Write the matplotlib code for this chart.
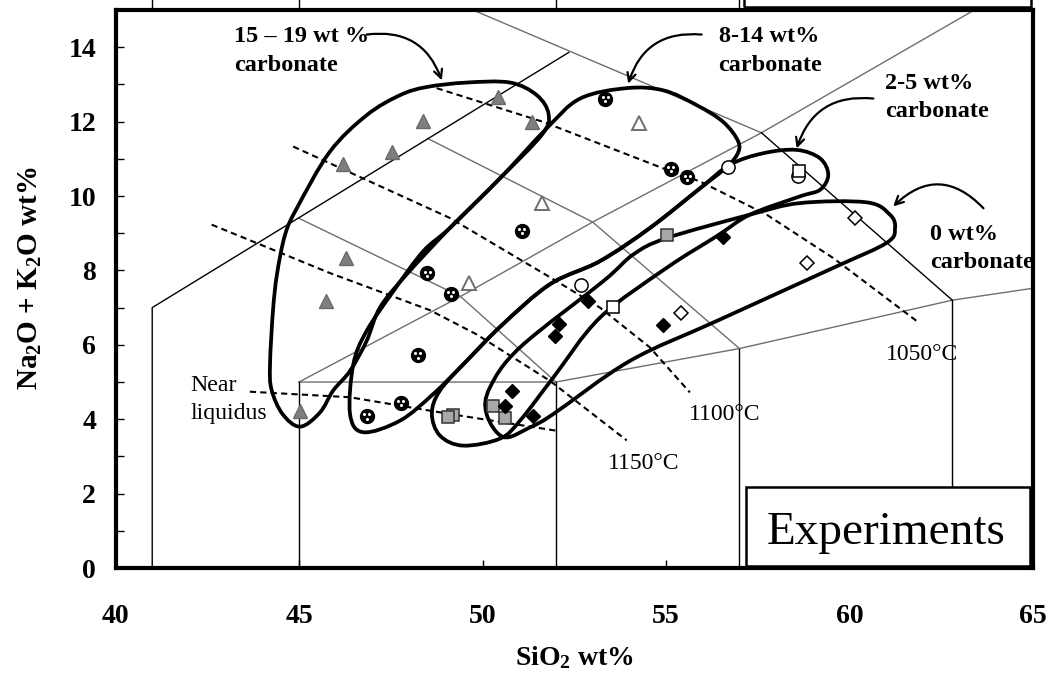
import numpy as np
import matplotlib
matplotlib.use('Agg')
import matplotlib.pyplot as plt
import matplotlib.transforms as mtransforms
from matplotlib.path import Path
from matplotlib.patches import PathPatch, Rectangle
from matplotlib.ticker import MultipleLocator

plt.rcParams['font.family'] = ['Liberation Serif', 'DejaVu Serif']
plt.rcParams['mathtext.fontset'] = 'custom'
plt.rcParams['mathtext.rm'] = 'Liberation Serif:bold'
plt.rcParams['mathtext.it'] = 'Liberation Serif:italic:bold'
plt.rcParams['mathtext.bf'] = 'Liberation Serif:bold'
plt.rcParams['mathtext.default'] = 'rm'

# experiment glasses, SiO2 vs Na2O+K2O (wt%)
tri_gray_x = [50.43, 51.34, 48.37, 47.54, 46.19, 46.27, 45.74, 45.03]
tri_gray_y = [12.66, 12.00, 12.01, 11.19, 10.86, 8.34, 7.19, 4.23]
tri_open_x = [54.27, 51.61, 49.64]
tri_open_y = [11.95, 9.81, 7.67]
dot_circ_x = [53.34, 55.13, 55.58, 51.07, 48.50, 49.14, 48.23, 47.77, 46.84]
dot_circ_y = [12.62, 10.73, 10.50, 9.07, 7.92, 7.37, 5.73, 4.44, 4.08]
open_circ_x = [56.70, 58.60, 52.68]
open_circ_y = [10.79, 10.55, 7.62]
open_sq_x = [58.62, 53.55]
open_sq_y = [10.68, 7.02]
gray_sq_x = [55.02, 49.20, 49.07, 50.29, 50.61]
gray_sq_y = [8.96, 4.10, 4.05, 4.36, 4.02]
black_dia_x = [56.56, 52.88, 52.09, 51.98, 54.93, 50.80, 50.61, 51.38]
black_dia_y = [8.89, 7.19, 6.57, 6.24, 6.52, 4.77, 4.36, 4.08]
open_dia_x = [60.15, 58.83, 55.40]
open_dia_y = [9.41, 8.20, 6.86]

# outlines of the carbonate groups
loop_15_19_x = [45.03, 44.55, 44.25, 44.21, 44.29, 44.40, 44.62, 44.94, 45.84, 46.84, 47.75, 48.48,
                49.57, 50.75, 51.48, 51.80, 51.62, 50.48, 49.11, 47.93, 47.21, 46.84, 46.39, 45.93, 45.57]
loop_15_19_y = [3.80, 4.14, 4.80, 5.48, 6.91, 7.90, 8.96, 9.67, 11.19, 12.17, 12.71, 12.93,
                13.05, 13.05, 12.71, 12.20, 11.65, 10.48, 9.14, 7.89, 7.01, 6.10, 5.30, 4.77, 4.18]
loop_8_14_x = [46.75, 46.39, 46.48, 46.84, 47.57, 48.38, 49.11, 50.48, 51.75, 52.66, 53.93, 54.93, 55.84,
               56.56, 56.97, 56.93, 56.56, 55.93, 54.56, 53.20, 51.84, 50.55, 49.57, 48.66, 47.75]
loop_8_14_y = [3.65, 4.14, 5.48, 6.37, 7.44, 8.51, 9.14, 10.48, 11.82, 12.62, 12.90, 12.84, 12.44,
               11.99, 11.46, 11.10, 10.70, 10.21, 9.14, 8.25, 7.63, 6.55, 5.57, 4.68, 3.96]
loop_2_5_x = [49.47, 48.84, 48.62, 48.84, 49.57, 50.55, 51.84, 53.20, 54.56, 55.93, 56.74, 57.65, 58.56,
              59.20, 59.42, 59.20, 58.65, 57.29, 56.38, 55.02, 53.20, 51.92, 51.02, 50.48]
loop_2_5_y = [3.29, 3.56, 4.15, 4.77, 5.57, 6.55, 7.63, 8.25, 9.14, 10.21, 10.84, 11.15, 11.24,
              11.01, 10.57, 10.17, 9.99, 9.50, 8.92, 8.07, 6.73, 5.11, 3.96, 3.48]
loop_0_x = [50.57, 50.11, 50.20, 51.02, 53.29, 54.11, 55.02, 57.29, 58.65, 60.47, 61.10, 61.24,
            61.01, 59.56, 56.38, 54.02, 51.93, 51.29]
loop_0_y = [3.52, 4.14, 4.85, 5.93, 7.71, 8.43, 8.87, 9.50, 9.81, 9.83, 9.50, 9.14,
            8.74, 8.07, 6.64, 5.57, 4.14, 3.78]

# isotherms
liq_x = [43.66, 46.39, 49.11, 52.02]
liq_y = [4.74, 4.59, 4.14, 3.69]
t1150_x = [42.62, 45.84, 48.57, 49.84, 51.84, 53.93]
t1150_y = [9.23, 7.93, 6.93, 6.28, 5.03, 3.43]
t1100_x = [44.84, 49.11, 52.02, 53.20, 54.56, 55.65]
t1100_y = [11.33, 9.41, 7.71, 7.00, 5.93, 4.72]
t1050_x = [48.75, 51.66, 54.93, 55.93, 57.74, 59.56, 61.83]
t1050_y = [12.90, 11.99, 10.74, 10.39, 9.50, 8.33, 6.64]

# TAS field boundaries
tas_black = [([41, 41, 52.35], [0, 7, 13.86]),
             ([45, 45], [0, 5]),
             ([52, 52], [0, 5]),
             ([57, 57], [0, 5.9]),
             ([62.8, 62.8], [0, 7.2]),
             ([57.6, 62.8], [11.7, 7.2])]
tas_gray = [([49.74, 57.6], [15, 11.7]),
            ([45, 52, 57, 62.8, 65.2], [5, 5, 5.9, 7.2, 7.55]),
            ([45, 49.4, 52], [9.4, 7.3, 5]),
            ([48.5, 53, 57], [11.55, 9.3, 5.9]),
            ([45, 49.4, 53, 57.6, 63.4], [5, 7.3, 9.3, 11.7, 15])]


def closedSpline(xs, ys):
    # closed Catmull-Rom curve through the outline points, as bezier path
    p = np.column_stack([xs, ys])
    n = len(p)
    verts = [p[0]]
    codes = [Path.MOVETO]
    for i in range(n):
        p0, p1, p2, p3 = p[i - 1], p[i], p[(i + 1) % n], p[(i + 2) % n]
        verts += [p1 + (p2 - p0) / 6.0, p2 - (p3 - p1) / 6.0, p2]
        codes += [Path.CURVE4] * 3
    return Path(verts, codes)


fig = plt.figure(figsize=(10.54, 6.81), dpi=100)
ax = fig.add_axes([0.1096, 0.1659, 0.8705, 0.8194])
ax.set_xlim(40, 65)
ax.set_ylim(0, 15)

for xs, ys in tas_gray:
    ax.plot(xs, ys, color='#6e6e6e', lw=1.0, zorder=1)
for xs, ys in tas_black:
    ax.plot(xs, ys, color='black', lw=1.0, zorder=1)

for xs, ys in [(liq_x, liq_y), (t1150_x, t1150_y), (t1100_x, t1100_y), (t1050_x, t1050_y)]:
    ax.plot(xs, ys, color='black', lw=1.5, ls=(0, (3, 2)), zorder=2)

for xs, ys in [(loop_15_19_x, loop_15_19_y), (loop_8_14_x, loop_8_14_y),
               (loop_2_5_x, loop_2_5_y), (loop_0_x, loop_0_y)]:
    ax.add_patch(PathPatch(closedSpline(xs, ys), fill=False, lw=2.7, edgecolor='black', zorder=3))

ax.plot(tri_gray_x, tri_gray_y, '^', ms=10.5, mfc='#7f7f7f', mec='#6a6a6a', mew=1, ls='none', zorder=5)
ax.plot(tri_open_x, tri_open_y, '^', ms=10.5, mfc='white', mec='#6e6e6e', mew=1.4, ls='none', zorder=5)
ax.plot(dot_circ_x, dot_circ_y, 'o', ms=10, mfc='black', mec='black', ls='none', zorder=5)
for dx, dy in [(-1.8, 1.3), (1.8, 1.3), (0, -1.9)]:
    tr = mtransforms.offset_copy(ax.transData, fig=fig, x=dx, y=dy, units='points')
    ax.plot(dot_circ_x, dot_circ_y, 'o', ms=2.2, mfc='white', mec='none', ls='none', transform=tr, zorder=6)
ax.plot(open_circ_x, open_circ_y, 'o', ms=9.5, mfc='white', mec='black', mew=1.1, ls='none', zorder=5)
ax.plot(open_sq_x, open_sq_y, 's', ms=8.5, mfc='white', mec='black', mew=1.1, ls='none', zorder=5)
ax.plot(gray_sq_x, gray_sq_y, 's', ms=8.5, mfc='#a8a8a8', mec='#333333', mew=1.1, ls='none', zorder=5)
ax.plot(black_dia_x, black_dia_y, 'D', ms=7.5, mfc='black', mec='black', ls='none', zorder=5)
ax.plot(open_dia_x, open_dia_y, 'D', ms=7.5, mfc='white', mec='black', mew=1.1, ls='none', zorder=5)

# group labels with curved arrows
lab = dict(fontsize=17.5, fontweight='bold', ha='left', va='center', linespacing=1.45)
ax.text(43.24, 13.90, '15 \u2013 19 wt %\ncarbonate', **lab)
ax.text(56.43, 13.90, '8-14 wt%\ncarbonate', **lab)
ax.text(60.97, 12.65, '2-5 wt%\ncarbonate', **lab)
ax.text(62.19, 8.58, '0 wt%\ncarbonate', **lab)
arrows = [((48.89, 13.11), (46.84, 14.34), -0.4),
          ((53.97, 13.02), (55.97, 14.34), 0.4),
          ((58.56, 11.28), (60.65, 12.62), 0.4),
          ((61.19, 9.72), (63.65, 9.67), 0.5)]
for tip, start, rad in arrows:
    ax.annotate('', xy=tip, xytext=start,
                arrowprops=dict(arrowstyle='->,head_length=0.6,head_width=0.3',
                                connectionstyle='arc3,rad=%s' % rad, lw=1.6, color='black',
                                shrinkA=0, shrinkB=0), zorder=6)

iso = dict(fontsize=17, ha='center', va='center')
ax.text(54.38, 2.80, '1150\u00b0C', **iso)
ax.text(56.59, 4.14, '1100\u00b0C', **iso)
ax.text(61.98, 5.75, '1050\u00b0C', **iso)
ax.text(42.03, 4.53, 'Near\nliquidus', fontsize=17.2, ha='left', va='center', linespacing=1.45)

ax.add_patch(Rectangle((57.18, 0.05), 7.74, 2.12, facecolor='white', edgecolor='black', lw=1.8, zorder=7))
ax.text(61.0, 0.65, 'Experiments', fontsize=34, ha='center', va='baseline', zorder=8)

# bits of the panel above that show over the frame
for xv in [41, 45, 52, 57]:
    ax.plot([xv, xv], [15, 15.6], color='black', lw=1.0, clip_on=False)
ax.add_patch(Rectangle((57.13, 15.08), 7.81, 1.0, fill=False, edgecolor='black', lw=1.8, clip_on=False))

for s in ax.spines.values():
    s.set_linewidth(3)
ax.xaxis.set_major_locator(MultipleLocator(5))
ax.yaxis.set_major_locator(MultipleLocator(2))
ax.yaxis.set_minor_locator(MultipleLocator(1))
ax.tick_params(axis='x', direction='in', length=5.5, width=1, pad=26, labelsize=20)
ax.tick_params(axis='y', which='both', direction='in', length=6, width=1, pad=14, labelsize=20)
for t in ax.get_xticklabels() + ax.get_yticklabels():
    t.set_fontweight('bold')

ax.set_xlabel('SiO$_2$ wt%', fontsize=20, fontweight='bold')
ax.set_ylabel('Na$_2$O + K$_2$O wt%', fontsize=21, fontweight='bold')
ax.xaxis.set_label_coords(0.5, -0.137)
ax.yaxis.set_label_coords(-0.078, 0.52)

fig.savefig('out.png', dpi=100)
